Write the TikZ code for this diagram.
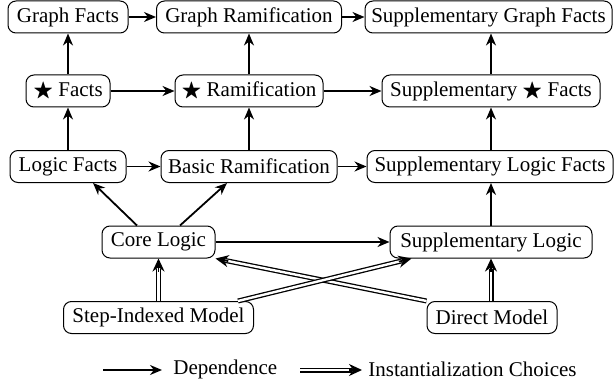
\documentclass[tikz,border=0pt]{standalone}
\usepackage{amssymb}
\usepackage{fontspec}
\setmainfont{Liberation Serif}
\usetikzlibrary{arrows.meta,calc}
\begin{document}
\begin{tikzpicture}[x=0.5pt,y=-0.5pt,
  box/.style={draw, rounded corners=4pt, line width=0.5pt, minimum height=16pt,
    inner sep=0pt, font=\fontsize{10.5}{12}\selectfont},
  lbl/.style={inner sep=0pt, anchor=west, font=\fontsize{10.5}{12}\selectfont},
  dep/.style={line width=0.9pt, -{Stealth[length=6pt,width=5pt]}},
  insttip/.style={line width=0.9pt, -{Stealth[length=6.5pt,width=6pt]}},
  instline/.style={double, double distance=1.2pt, line width=0.65pt, shorten >=5pt}
]
\useasboundingbox (0,0) rectangle (615,385);
% row 1
\node[box, minimum width=60pt]   (gf)  at (68,17)    {Graph Facts};
\node[box, minimum width=92.5pt] (gr)  at (249,17)   {Graph Ramification};
\node[box, minimum width=123.5pt](sgf) at (488.5,17) {Supplementary Graph Facts};
% row 2
\node[box, minimum width=42pt]   (sf)  at (68,91)    {$\bigstar$ Facts};
\node[box, minimum width=74pt]   (sr)  at (249,91)   {$\bigstar$ Ramification};
\node[box, minimum width=109pt]  (ssf) at (491,91)   {Supplementary $\bigstar$ Facts};
% row 3
\node[box, minimum width=58pt]   (lf)  at (68,166.5) {Logic Facts};
\node[box, minimum width=88pt]   (br)  at (249,166.5) {Basic Ramification};
\node[box, minimum width=123pt]  (slf) at (490,166.5) {Supplementary Logic Facts};
% row 4
\node[box, minimum width=56.5pt] (cl)  at (158.5,242) {Core Logic};
\node[box, minimum width=101pt]  (sl)  at (491,242)   {Supplementary Logic};
% row 5
\node[box, minimum width=95pt]   (sim) at (158.5,317.5) {Step-Indexed Model};
\node[box, minimum width=65pt]   (dm)  at (492,317.5)   {Direct Model};

% horizontal dependences
\draw[dep] (gf) -- (gr);
\draw[dep] (gr) -- (sgf);
\draw[dep] (sf) -- (sr);
\draw[dep] (sr) -- (ssf);
\draw[dep] (lf) -- (br);
\draw[dep] (br) -- (slf);
\draw[dep] (cl) -- (sl);
% vertical dependences
\draw[dep] (sf.north) -- (sf.north |- gf.south);
\draw[dep] (lf.north) -- (lf.north |- sf.south);
\draw[dep] (sr.north) -- (sr.north |- gr.south);
\draw[dep] (br.north) -- (br.north |- sr.south);
\draw[dep] (ssf.north) -- (ssf.north |- sgf.south);
\draw[dep] (slf.north -| ssf.north) -- (ssf.south);
\draw[dep] (sl.north) -- (sl.north |- slf.south);
% diagonals
\draw[dep] ($(cl.north)+(-21.5,0)$) -- ($(lf.south)+(25,0)$);
\draw[dep] ($(cl.north)+(21.5,0)$) -- ($(br.south)+(-22,0)$);

% instantiation choices
\coordinate (a1) at (sim.north -| cl.south);
\coordinate (a2) at (dm.north -| sl.south);
\coordinate (a3) at ($(sim.north east)+(-16,0)$);
\coordinate (b3) at ($(sl.south west)+(22,0)$);
\draw[instline] (a1) -- (cl.south);
\draw[insttip] ($(cl.south)!6.5pt!(a1)$) -- (cl.south);
\draw[instline] (a2) -- (sl.south);
\draw[insttip] ($(sl.south)!6.5pt!(a2)$) -- (sl.south);
\draw[instline] (dm.north west) -- (cl.south east);
\draw[insttip] ($(cl.south east)!6.5pt!(dm.north west)$) -- (cl.south east);
\draw[instline] (a3) -- (b3);
\draw[insttip] ($(b3)!6.5pt!(a3)$) -- (b3);

% legend
\coordinate (ld1) at (103,370);
\coordinate (ld2) at (162,370);
\draw[dep] (ld1) -- (ld2);
\node[lbl] (ldep) at (173,369) {Dependence};
\coordinate (li1) at (300,370);
\coordinate (li2) at (362,370);
\draw[instline] (li1) -- (li2);
\draw[insttip] ($(li2)!6.5pt!(li1)$) -- (li2);
\node[lbl] (linst) at (368,369) {Instantialization Choices};
\end{tikzpicture}
\end{document}
